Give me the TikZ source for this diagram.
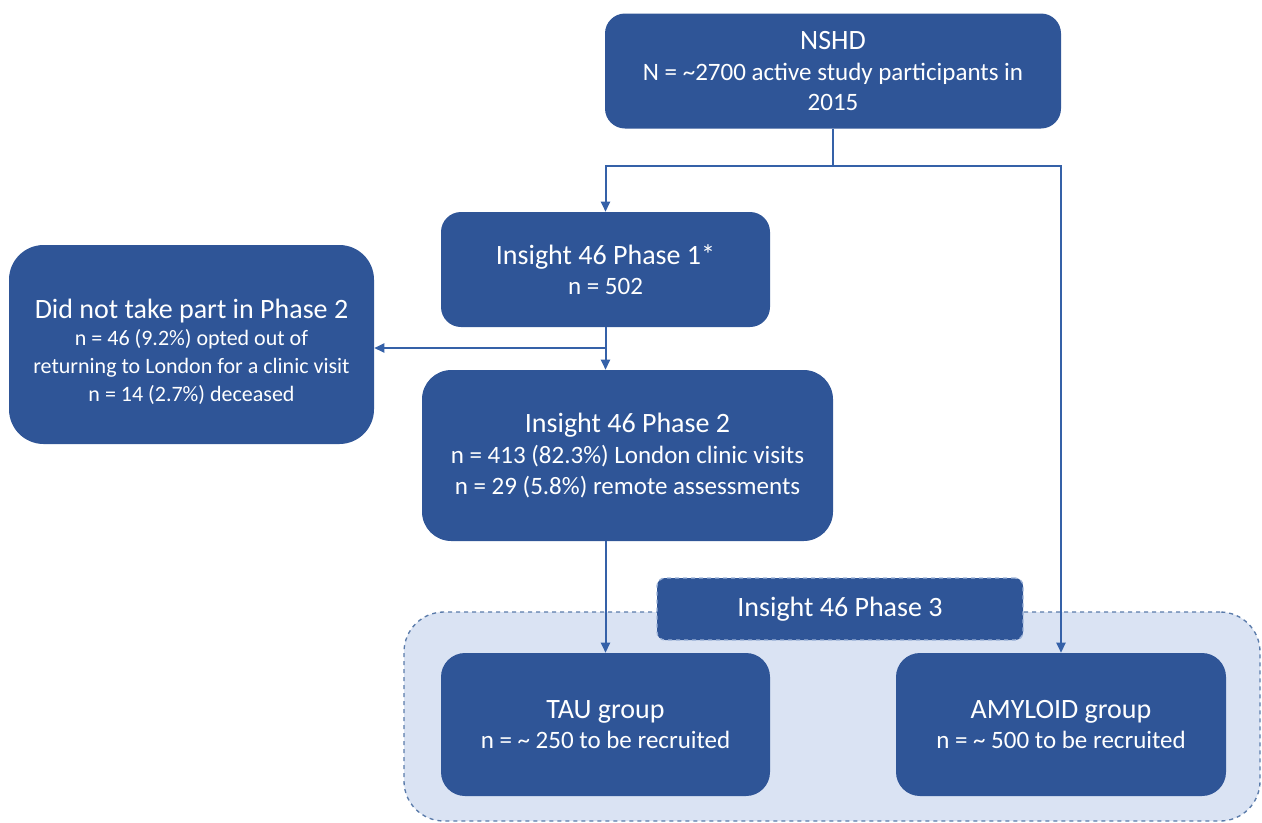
\documentclass[tikz,border=0pt]{standalone}
\usepackage{fontspec}
\setmainfont{Carlito}
\usetikzlibrary{arrows.meta}
\definecolor{boxblue}{HTML}{2F5597}
\definecolor{linblue}{HTML}{3561A8}
\definecolor{bgblue}{HTML}{DAE3F3}
\definecolor{dashblue}{HTML}{5A7BAA}
\definecolor{lbldash}{HTML}{9DB3D9}
\newcommand\ttlf{\fontsize{21}{25}\selectfont}
\newcommand\subf{\fontsize{18.75}{23}\selectfont}
\newcommand\smlf{\fontsize{16.5}{21}\selectfont}
\tikzset{
  bluebox/.style={fill=boxblue, draw=none, text=white, align=center, inner sep=0pt, font=\subf},
  boxtext/.style={text=white, align=center, inner sep=0pt},
  arr/.style={draw=linblue, line width=1.5pt, -{Triangle[length=7.5pt,width=6.75pt]}},
  conn/.style={draw=linblue, line width=1.5pt},
}
\begin{document}
\begin{tikzpicture}[x=0.75pt,y=-0.75pt]
\useasboundingbox (0,0) rectangle (1262,822);
% Phase 3 background
\node (bg) [fill=bgblue, draw=dashblue, dashed, line width=1pt, rounded corners=30pt,
  minimum width=642pt, minimum height=156.75pt, inner sep=0pt] at (832,716.5) {};
% boxes
\node (nshd) [bluebox, rounded corners=15pt, minimum width=342pt, minimum height=86.25pt] at (833,71)
  {{\ttlf NSHD}\\ N = \textasciitilde2700 active study participants in\\ 2015};
\node (p1) [bluebox, rounded corners=15pt, minimum width=246.75pt, minimum height=86.25pt] at (605.5,269.5)
  {{\ttlf Insight 46 Phase 1*}\\ n = 502};
\node (left) [bluebox, rounded corners=26pt, minimum width=273.75pt, minimum height=149.25pt] at (191.5,344.5) {};
\node (lefttxt) [boxtext, font=\smlf] at (191.5,352)
  {{\ttlf Did not take part in Phase 2}\\[-1pt] n = 46 (9.2\%) opted out of\\ returning to London for a clinic visit\\ n = 14 (2.7\%) deceased};
\node (p2) [bluebox, rounded corners=22pt, minimum width=308.25pt, minimum height=128.25pt] at (627.5,455.5)
  {{\ttlf Insight 46 Phase 2}\\ n = 413 (82.3\%) London clinic visits\\ n = 29 (5.8\%) remote assessments};
\node (lbl) [bluebox, draw=lbldash, dashed, line width=1pt, rounded corners=6pt, minimum width=274.5pt, minimum height=46.5pt, font=\ttlf] at (840,609)
  {Insight 46 Phase 3};
\node (tau) [bluebox, rounded corners=18pt, minimum width=246.75pt, minimum height=107.25pt] at (605.5,724.5)
  {{\ttlf TAU group}\\ n = \textasciitilde{} 250 to be recruited};
\node (amy) [bluebox, rounded corners=18pt, minimum width=247.5pt, minimum height=107.25pt] at (1061,724.5)
  {{\ttlf AMYLOID group}\\ n = \textasciitilde{} 500 to be recruited};
% connectors
\coordinate (split) at (833,166);
\coordinate (branch) at (606,348);
\draw[conn] (nshd.south) -- (split);
\draw[arr] (split) -| (p1.north);
\draw[arr] (split) -| (amy.north);
\draw[arr] (p1.south) -- (p1.south |- p2.north);
\draw[arr] (branch) -- (branch -| left.east);
\draw[arr] (p1.south |- p2.south) -- (tau.north);
\end{tikzpicture}
\end{document}
